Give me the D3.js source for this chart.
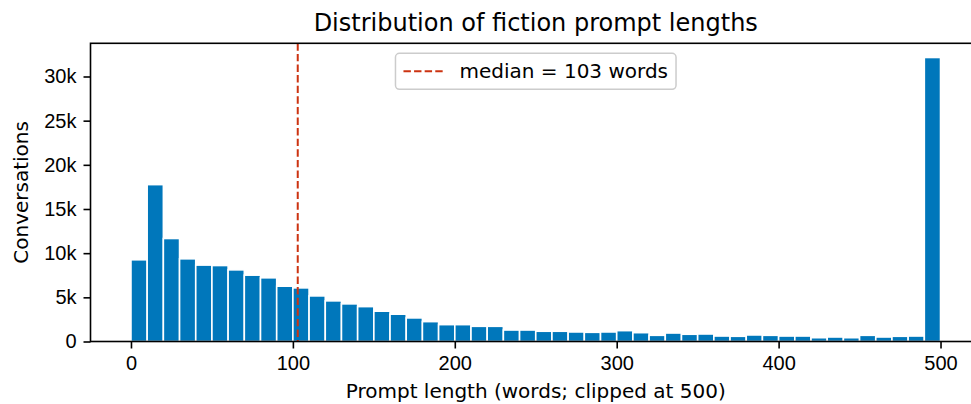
<!DOCTYPE html>
<html lang="en">
<head>
  <meta charset="UTF-8">
  <title>Distribution of fiction prompt lengths</title>
  <script src="https://d3js.org/d3.v7.min.js"></script>
  <style>
    body { margin: 0; background: #fff; }
    svg { display: block; font-family: "DejaVu Sans", sans-serif; }
    .tick text { font-size: 20px; fill: #000; }
    .tick line, .domain { stroke: #000; }
  </style>
</head>
<body>
<div id="chart"></div>
<script>
// histogram bins: 10-word bins from 0 to 500 (last bin holds clipped values)
var binEdges = d3.range(0, 501, 10);
var counts = [
  9250, 17760, 11660, 9360, 8650, 8600, 8110, 7510, 7210, 6260,
  6070, 5160, 4600, 4260, 3950, 3430, 3090, 2670, 2250, 1910,
  1910, 1720, 1720, 1300, 1300, 1160, 1160, 1080, 1040, 1080,
  1230, 1000, 700, 960, 820, 850, 620, 590, 740, 700,
  620, 620, 430, 510, 430, 700, 510, 590, 620, 32150
];
var median = 103;
var xTicks = [0, 100, 200, 300, 400, 500];
var yTicks = [0, 5000, 10000, 15000, 20000, 25000, 30000];

var W = 971, H = 404;
var margin = {top: 43.3, left: 90.5, bottom: 62.5};
var plotW = 890.5,
    plotH = H - margin.top - margin.bottom;

var svg = d3.select("#chart").append("svg")
  .attr("width", W)
  .attr("height", H);

var g = svg.append("g")
  .attr("transform", "translate(" + margin.left + "," + margin.top + ")");

// matplotlib style 5% margins on x, 5% headroom on y
var x = d3.scaleLinear().domain([-25, 525]).range([0, plotW]);
var y = d3.scaleLinear().domain([0, d3.max(counts) * 1.05]).range([plotH, 0]);

var bins = counts.map(function(c, i) {
  return {x0: binEdges[i], x1: binEdges[i + 1], n: c};
});

g.selectAll(".bar")
  .data(bins)
  .enter().append("rect")
  .attr("class", "bar")
  .attr("x", function(d) { return x(d.x0); })
  .attr("width", function(d) { return x(d.x1) - x(d.x0); })
  .attr("y", function(d) { return y(d.n); })
  .attr("height", function(d) { return y(0) - y(d.n); })
  .attr("fill", "#0077BB")
  .attr("stroke", "#fff")
  .attr("stroke-width", 1.6);

// median line
g.append("line")
  .attr("x1", x(median)).attr("x2", x(median))
  .attr("y1", 0).attr("y2", plotH)
  .attr("stroke", "#CC3311")
  .attr("stroke-width", 2)
  .attr("stroke-dasharray", "7.4,3.2");

// axes
var xAxis = g.append("g")
  .attr("transform", "translate(0," + plotH + ")")
  .call(d3.axisBottom(x).tickValues(xTicks).tickSize(7).tickPadding(7));

var yAxis = g.append("g")
  .call(d3.axisLeft(y).tickValues(yTicks).tickSize(7).tickPadding(7)
    .tickFormat(function(d) { return d === 0 ? "0" : (d / 1000) + "k"; }));

[xAxis, yAxis].forEach(function(a) {
  a.selectAll(".tick line").attr("stroke-width", 1.6);
  a.select(".domain").remove();
});

// spines
g.append("rect")
  .attr("x", 0).attr("y", 0)
  .attr("width", plotW).attr("height", plotH)
  .attr("fill", "none")
  .attr("stroke", "#000")
  .attr("stroke-width", 1.6);

// labels
svg.append("text")
  .attr("x", margin.left + plotW / 2)
  .attr("y", 31)
  .attr("text-anchor", "middle")
  .style("font-size", "24px")
  .text("Distribution of fiction prompt lengths");

svg.append("text")
  .attr("x", margin.left + plotW / 2)
  .attr("y", 398)
  .attr("text-anchor", "middle")
  .style("font-size", "20px")
  .text("Prompt length (words; clipped at 500)");

svg.append("text")
  .attr("transform", "translate(28," + (margin.top + plotH / 2) + ") rotate(-90)")
  .attr("text-anchor", "middle")
  .style("font-size", "20px")
  .text("Conversations");

// legend (upper center)
var legend = g.append("g");
var legBox = legend.append("rect")
  .attr("fill", "#fff")
  .attr("fill-opacity", 0.8)
  .attr("stroke", "#cccccc")
  .attr("stroke-width", 1.5)
  .attr("rx", 4);
var legText = legend.append("text")
  .style("font-size", "20px")
  .text("median = " + median + " words");
var tw = legText.node().getComputedTextLength();
var pad = 8, handle = 40, gap = 16;
var boxW = pad + handle + gap + tw + pad, boxH = 36;
var bx = plotW / 2 - boxW / 2, by = 10;
legBox.attr("x", bx).attr("y", by).attr("width", boxW).attr("height", boxH);
legend.append("line")
  .attr("x1", bx + pad).attr("x2", bx + pad + handle)
  .attr("y1", by + boxH / 2).attr("y2", by + boxH / 2)
  .attr("stroke", "#CC3311")
  .attr("stroke-width", 2)
  .attr("stroke-dasharray", "7.4,3.2");
legText.attr("x", bx + pad + handle + gap).attr("y", by + boxH / 2).attr("dy", "0.35em");
</script>
</body>
</html>
